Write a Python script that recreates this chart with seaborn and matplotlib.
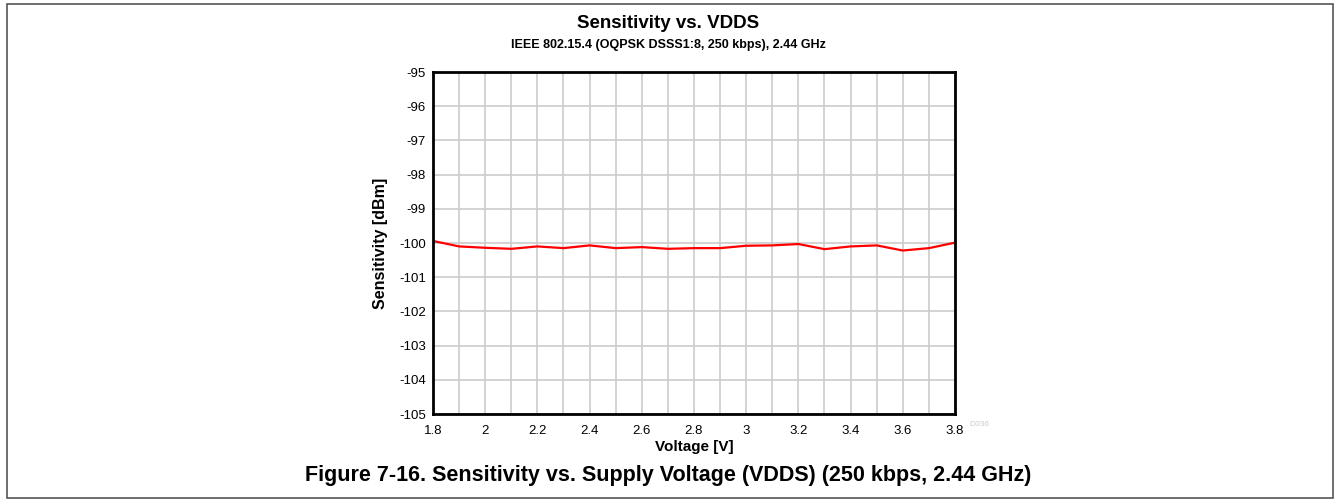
import seaborn as sns
import pandas as pd
import numpy as np
import matplotlib.pyplot as plt
from matplotlib.patches import Rectangle

voltage = [1.8, 1.9, 2.0, 2.1, 2.2, 2.3, 2.4, 2.5, 2.6, 2.7, 2.8,
           2.9, 3.0, 3.1, 3.2, 3.3, 3.4, 3.5, 3.6, 3.7, 3.8]
sensitivity = [-99.94, -100.10, -100.14, -100.17, -100.10, -100.15, -100.07,
               -100.15, -100.12, -100.17, -100.15, -100.15, -100.08, -100.07,
               -100.03, -100.18, -100.10, -100.07, -100.22, -100.15, -99.99]
xticks = [1.8, 2, 2.2, 2.4, 2.6, 2.8, 3, 3.2, 3.4, 3.6, 3.8]
xtick_labels = ["1.8", "2", "2.2", "2.4", "2.6", "2.8", "3", "3.2", "3.4", "3.6", "3.8"]
yticks = [-105, -104, -103, -102, -101, -100, -99, -98, -97, -96, -95]

sns.set_style("white")
plt.rcParams['font.family'] = ['Liberation Sans', 'DejaVu Sans']
plt.rcParams['text.color'] = 'black'
plt.rcParams['axes.labelcolor'] = 'black'
plt.rcParams['xtick.color'] = 'black'
plt.rcParams['ytick.color'] = 'black'

df = pd.DataFrame({"Voltage": voltage, "Sensitivity": sensitivity})

fig = plt.figure(figsize=(13.36, 5), dpi=100)
ax = fig.add_axes([0.3241, 0.172, 0.3907, 0.684])

sns.lineplot(data=df, x="Voltage", y="Sensitivity", color="red", linewidth=1.6, ax=ax)

ax.set_xlim(1.8, 3.8)
ax.set_ylim(-105, -95)
ax.set_xticks(np.arange(1.8, 3.81, 0.1), minor=True)
ax.set_xticks(xticks)
ax.set_xticklabels(xtick_labels, fontsize=9.5)
ax.set_yticks(yticks)
ax.set_yticklabels([str(t) for t in yticks], fontsize=9.5)
ax.grid(True, which="both", axis="x", color="#cccccc", linewidth=1.2)
ax.grid(True, which="major", axis="y", color="#cccccc", linewidth=1.2)
ax.tick_params(axis="x", which="both", length=0, pad=8)
ax.tick_params(axis="y", which="both", length=0, pad=5)
for s in ax.spines.values():
    s.set_color("black")
    s.set_linewidth(2)

ax.set_xlabel("Voltage [V]", fontsize=11, fontweight="bold", labelpad=2)
ax.set_ylabel("Sensitivity [dBm]", fontsize=11.5, fontweight="bold", labelpad=8)

fig.text(0.5, 0.952, "Sensitivity vs. VDDS", ha="center", va="center",
         fontsize=13.5, fontweight="bold")
fig.text(0.5, 0.91, "IEEE 802.15.4 (OQPSK DSSS1:8, 250 kbps), 2.44 GHz", ha="center",
         va="center", fontsize=9, fontweight="bold")
fig.text(0.733, 0.152, "D036", ha="center", va="center", fontsize=6, color="#cccccc")
fig.text(0.5, 0.05, "Figure 7-16. Sensitivity vs. Supply Voltage (VDDS) (250 kbps, 2.44 GHz)",
         ha="center", va="center", fontsize=15.5, fontweight="bold")

fig.patches.append(Rectangle((0.005, 0.004), 0.993, 0.988, transform=fig.transFigure,
                             fill=False, edgecolor="#555555", linewidth=1.2))

fig.savefig("out.png", dpi=100)
